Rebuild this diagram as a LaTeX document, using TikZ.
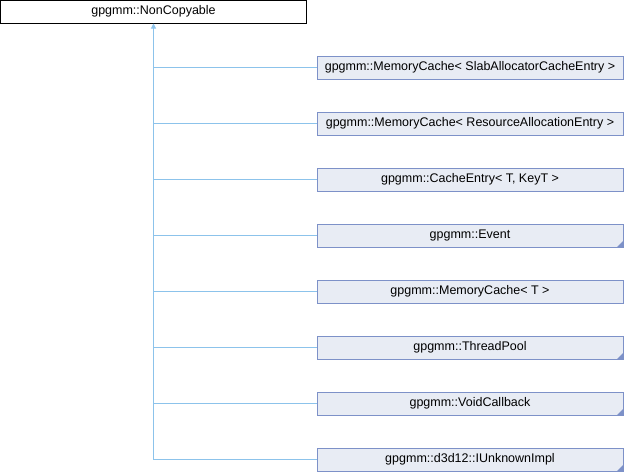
\documentclass[tikz,border=0pt]{standalone}
\usepackage{fontspec}
\setmainfont{Liberation Sans}
\usetikzlibrary{positioning,arrows.meta}
\definecolor{boxline}{RGB}{125,145,200}
\definecolor{boxfill}{RGB}{232,236,244}
\definecolor{edgeblue}{RGB}{140,195,235}

\begin{document}
\begin{tikzpicture}[
  x=1pt, y=-1pt,
  font=\fontsize{12.5}{14}\selectfont,
  base/.style={draw=black, fill=white, minimum width=306pt, minimum height=23pt,
               inner sep=0pt, line width=1pt},
  cls/.style={draw=boxline, fill=boxfill, minimum width=306pt, minimum height=23pt,
              inner sep=0pt, line width=1pt},
  more/.style={cls, path picture={\fill[boxline] (path picture bounding box.south east)
               -- ++(-6pt,0) -- ++(6pt,6pt) -- cycle;}},
  edge/.style={draw=edgeblue, line width=1pt},
  >={Triangle[length=5pt,width=5pt]}
]
\useasboundingbox (0,0) rectangle (624,472);

\node[base] (nc) at (153.5,11.5) {gpgmm::NonCopyable};

\node[cls] (slab) at (470,67.5) {gpgmm::MemoryCache< SlabAllocatorCacheEntry >};
\node[cls, below=32pt of slab] (res) {gpgmm::MemoryCache< ResourceAllocationEntry >};
\node[cls, below=32pt of res] (entry) {gpgmm::CacheEntry< T, KeyT >};
\node[more, below=32pt of entry] (event) {gpgmm::Event};
\node[cls, below=32pt of event] (cache) {gpgmm::MemoryCache< T >};
\node[more, below=32pt of cache] (pool) {gpgmm::ThreadPool};
\node[more, below=32pt of pool] (cb) {gpgmm::VoidCallback};
\node[more, below=32pt of cb] (impl) {gpgmm::d3d12::IUnknownImpl};

% inheritance edges
\draw[edge, <-] (nc.south) -- (nc.south |- impl.west) -- (impl.west);
\foreach \n in {slab,res,entry,event,cache,pool,cb}
  \draw[edge] (nc.south |- \n.west) -- (\n.west);
\end{tikzpicture}
\end{document}
